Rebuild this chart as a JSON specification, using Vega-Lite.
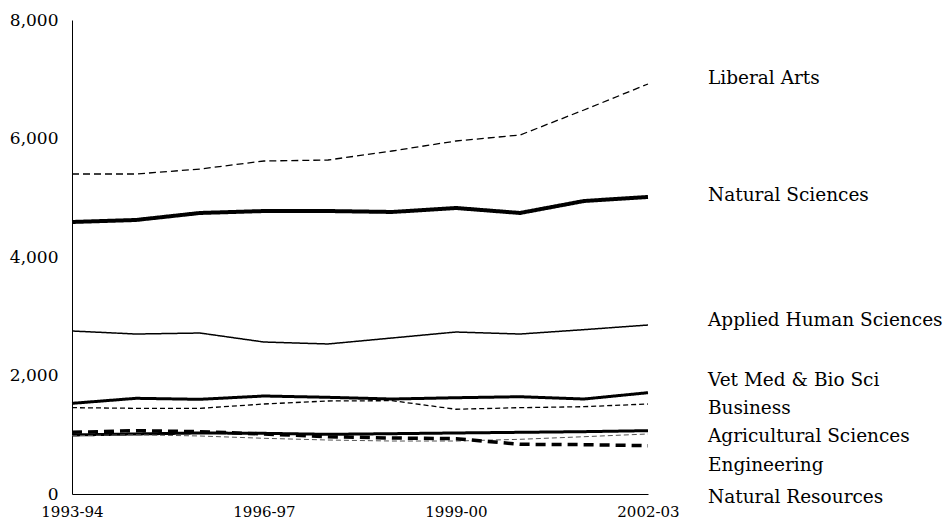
{
  "$schema": "https://vega.github.io/schema/vega-lite/v6.json",
  "width": 576,
  "height": 474,
  "autosize": "none",
  "padding": {"left": 72, "top": 20, "right": 300, "bottom": 26},
  "background": "white",
  "config": {
    "view": {"stroke": null},
    "font": "DejaVu Serif",
    "axis": {"grid": false, "ticks": false, "domainColor": "black", "domainWidth": 1, "labelColor": "black", "labelFont": "DejaVu Serif", "title": null}
  },
  "datasets": {
    "series": [
      {"series": "Liberal Arts", "year": "1993-94", "value": 5401},
      {"series": "Liberal Arts", "year": "1994-95", "value": 5401},
      {"series": "Liberal Arts", "year": "1995-96", "value": 5485},
      {"series": "Liberal Arts", "year": "1996-97", "value": 5620},
      {"series": "Liberal Arts", "year": "1997-98", "value": 5637},
      {"series": "Liberal Arts", "year": "1998-99", "value": 5789},
      {"series": "Liberal Arts", "year": "1999-00", "value": 5958},
      {"series": "Liberal Arts", "year": "2000-01", "value": 6059},
      {"series": "Liberal Arts", "year": "2001-02", "value": 6481},
      {"series": "Liberal Arts", "year": "2002-03", "value": 6920},
      {"series": "Natural Sciences", "year": "1993-94", "value": 4591},
      {"series": "Natural Sciences", "year": "1994-95", "value": 4625},
      {"series": "Natural Sciences", "year": "1995-96", "value": 4743},
      {"series": "Natural Sciences", "year": "1996-97", "value": 4776},
      {"series": "Natural Sciences", "year": "1997-98", "value": 4776},
      {"series": "Natural Sciences", "year": "1998-99", "value": 4760},
      {"series": "Natural Sciences", "year": "1999-00", "value": 4827},
      {"series": "Natural Sciences", "year": "2000-01", "value": 4743},
      {"series": "Natural Sciences", "year": "2001-02", "value": 4945},
      {"series": "Natural Sciences", "year": "2002-03", "value": 5013},
      {"series": "Applied Human Sciences", "year": "1993-94", "value": 2751},
      {"series": "Applied Human Sciences", "year": "1994-95", "value": 2700},
      {"series": "Applied Human Sciences", "year": "1995-96", "value": 2717},
      {"series": "Applied Human Sciences", "year": "1996-97", "value": 2565},
      {"series": "Applied Human Sciences", "year": "1997-98", "value": 2532},
      {"series": "Applied Human Sciences", "year": "1998-99", "value": 2633},
      {"series": "Applied Human Sciences", "year": "1999-00", "value": 2734},
      {"series": "Applied Human Sciences", "year": "2000-01", "value": 2700},
      {"series": "Applied Human Sciences", "year": "2001-02", "value": 2774},
      {"series": "Applied Human Sciences", "year": "2002-03", "value": 2852},
      {"series": "Vet Med & Bio Sci", "year": "1993-94", "value": 1530},
      {"series": "Vet Med & Bio Sci", "year": "1994-95", "value": 1615},
      {"series": "Vet Med & Bio Sci", "year": "1995-96", "value": 1598},
      {"series": "Vet Med & Bio Sci", "year": "1996-97", "value": 1654},
      {"series": "Vet Med & Bio Sci", "year": "1997-98", "value": 1632},
      {"series": "Vet Med & Bio Sci", "year": "1998-99", "value": 1603},
      {"series": "Vet Med & Bio Sci", "year": "1999-00", "value": 1625},
      {"series": "Vet Med & Bio Sci", "year": "2000-01", "value": 1642},
      {"series": "Vet Med & Bio Sci", "year": "2001-02", "value": 1603},
      {"series": "Vet Med & Bio Sci", "year": "2002-03", "value": 1710},
      {"series": "Business", "year": "1993-94", "value": 1457},
      {"series": "Business", "year": "1994-95", "value": 1446},
      {"series": "Business", "year": "1995-96", "value": 1446},
      {"series": "Business", "year": "1996-97", "value": 1519},
      {"series": "Business", "year": "1997-98", "value": 1570},
      {"series": "Business", "year": "1998-99", "value": 1575},
      {"series": "Business", "year": "1999-00", "value": 1430},
      {"series": "Business", "year": "2000-01", "value": 1457},
      {"series": "Business", "year": "2001-02", "value": 1474},
      {"series": "Business", "year": "2002-03", "value": 1519},
      {"series": "Agricultural Sciences", "year": "1993-94", "value": 996},
      {"series": "Agricultural Sciences", "year": "1994-95", "value": 1013},
      {"series": "Agricultural Sciences", "year": "1995-96", "value": 1030},
      {"series": "Agricultural Sciences", "year": "1996-97", "value": 1024},
      {"series": "Agricultural Sciences", "year": "1997-98", "value": 1007},
      {"series": "Agricultural Sciences", "year": "1998-99", "value": 1018},
      {"series": "Agricultural Sciences", "year": "1999-00", "value": 1030},
      {"series": "Agricultural Sciences", "year": "2000-01", "value": 1041},
      {"series": "Agricultural Sciences", "year": "2001-02", "value": 1052},
      {"series": "Agricultural Sciences", "year": "2002-03", "value": 1069},
      {"series": "Engineering", "year": "1993-94", "value": 984},
      {"series": "Engineering", "year": "1994-95", "value": 1000},
      {"series": "Engineering", "year": "1995-96", "value": 979},
      {"series": "Engineering", "year": "1996-97", "value": 940},
      {"series": "Engineering", "year": "1997-98", "value": 911},
      {"series": "Engineering", "year": "1998-99", "value": 894},
      {"series": "Engineering", "year": "1999-00", "value": 894},
      {"series": "Engineering", "year": "2000-01", "value": 923},
      {"series": "Engineering", "year": "2001-02", "value": 967},
      {"series": "Engineering", "year": "2002-03", "value": 1013},
      {"series": "Natural Resources", "year": "1993-94", "value": 1041},
      {"series": "Natural Resources", "year": "1994-95", "value": 1069},
      {"series": "Natural Resources", "year": "1995-96", "value": 1052},
      {"series": "Natural Resources", "year": "1996-97", "value": 1013},
      {"series": "Natural Resources", "year": "1997-98", "value": 967},
      {"series": "Natural Resources", "year": "1998-99", "value": 945},
      {"series": "Natural Resources", "year": "1999-00", "value": 934},
      {"series": "Natural Resources", "year": "2000-01", "value": 839},
      {"series": "Natural Resources", "year": "2001-02", "value": 833},
      {"series": "Natural Resources", "year": "2002-03", "value": 816}
    ],
    "labels": [
      {"series": "Liberal Arts", "labelValue": 7021},
      {"series": "Natural Sciences", "labelValue": 5046},
      {"series": "Applied Human Sciences", "labelValue": 2937},
      {"series": "Vet Med & Bio Sci", "labelValue": 1924},
      {"series": "Business", "labelValue": 1451},
      {"series": "Agricultural Sciences", "labelValue": 979},
      {"series": "Engineering", "labelValue": 489},
      {"series": "Natural Resources", "labelValue": -51}
    ]
  },
  "layer": [
    {
      "data": {"name": "series"},
      "mark": {"type": "line", "strokeCap": "butt", "strokeJoin": "round"},
      "encoding": {
        "x": {
          "field": "year", "type": "ordinal",
          "scale": {"type": "point", "padding": 0},
          "axis": {"values": ["1993-94", "1996-97", "1999-00", "2002-03"], "labelAngle": 0, "labelFontSize": 15, "labelPadding": 10}
        },
        "y": {
          "field": "value", "type": "quantitative",
          "scale": {"domain": [0, 8000], "nice": false},
          "axis": {"values": [0, 2000, 4000, 6000, 8000], "format": ",.0f", "labelFontSize": 17, "labelPadding": 14}
        },
        "detail": {"field": "series"},
        "color": {
          "field": "series", "type": "nominal", "legend": null,
          "scale": {
            "domain": ["Liberal Arts", "Natural Sciences", "Applied Human Sciences", "Vet Med & Bio Sci", "Business", "Agricultural Sciences", "Engineering", "Natural Resources"],
            "range": ["black", "black", "black", "black", "black", "black", "#555555", "black"]
          }
        },
        "strokeDash": {
          "field": "series", "type": "nominal", "legend": null,
          "scale": {
            "domain": ["Liberal Arts", "Natural Sciences", "Applied Human Sciences", "Vet Med & Bio Sci", "Business", "Agricultural Sciences", "Engineering", "Natural Resources"],
            "range": [[7, 4], [1, 0], [1, 0], [1, 0], [5, 3], [1, 0], [5, 3], [10, 6]]
          }
        },
        "strokeWidth": {
          "field": "series", "type": "nominal", "legend": null,
          "scale": {
            "type": "ordinal",
            "domain": ["Liberal Arts", "Natural Sciences", "Applied Human Sciences", "Vet Med & Bio Sci", "Business", "Agricultural Sciences", "Engineering", "Natural Resources"],
            "range": [1.3, 4, 1.5, 3, 1.3, 3, 1, 3.5]
          }
        }
      }
    },
    {
      "data": {"name": "labels"},
      "mark": {"type": "text", "align": "left", "baseline": "middle", "dx": 60, "fontSize": 18.5, "font": "DejaVu Serif", "color": "black"},
      "encoding": {
        "x": {"datum": "2002-03", "type": "ordinal"},
        "y": {"field": "labelValue", "type": "quantitative"},
        "text": {"field": "series"}
      }
    }
  ]
}
